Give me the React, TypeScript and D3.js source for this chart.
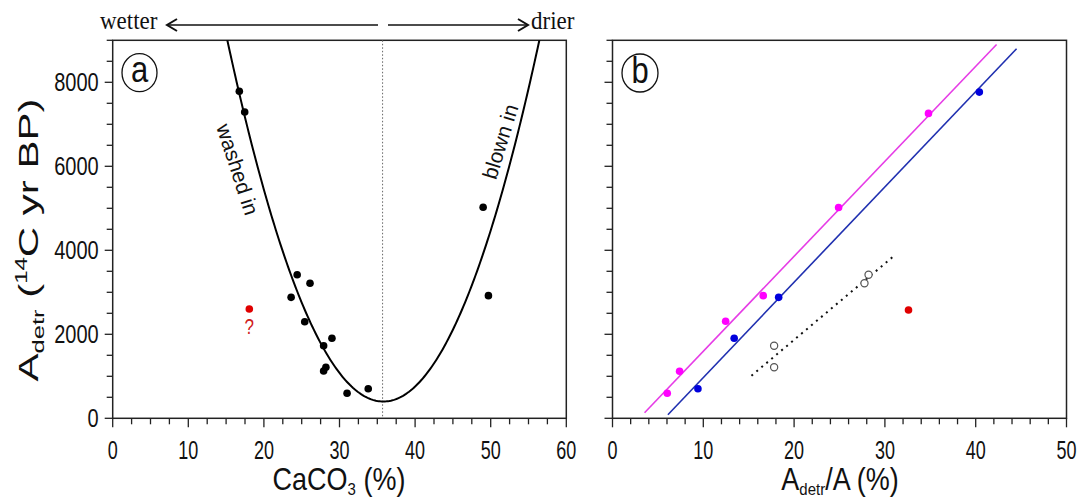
import React from "react";
import * as d3 from "d3";

// ---------- data ----------
const washedIn = [
  [16.75, 7786], [17.46, 7293], [24.4, 3419], [26.1, 3214], [23.6, 2880],
  [25.4, 2300], [29.0, 1905], [27.9, 1729], [28.2, 1214], [27.9, 1126],
  [33.8, 705], [31.0, 595],
];
const blownIn = [[49.0, 5024], [49.7, 2920]];
const outlierA = [[18.07, 2602]];

// parabola fit  y = a (x - x0)^2 + ymin
const fitA = { a: 20.2, x0: 35.8, ymin: 400 };
const dividerX = 35.7;

const magentaPts = [[6.03, 595], [7.39, 1119], [12.46, 2309], [16.6, 2920], [24.9, 5020], [34.8, 7260]];
const bluePts = [[9.41, 705], [13.4, 1905], [18.3, 2880], [40.4, 7767]];
const openPts = [[17.8, 1729], [17.8, 1214], [27.75, 3214], [28.2, 3419]];
const outlierB = [[32.6, 2580]];
const magentaLine = [[3.53, 133], [42.3, 8900]];
const blueLine = [[6.1, 86], [44.5, 8800]];
const dottedLine = [[15.3, 1014], [30.9, 3848]];

const xTicksA = [0, 10, 20, 30, 40, 50, 60];
const xTicksB = [0, 10, 20, 30, 40, 50];
const yTicks = [0, 2000, 4000, 6000, 8000];

// ---------- layout ----------
const W = 1087, H = 498;
const top = 40.3, bottom = 418.3;
const axA = { l: 112.7, r: 566.3 };
const axB = { l: 612.5, r: 1066.5 };
const FONT = "'Liberation Sans', Arial, sans-serif";
const SERIF = "'Liberation Serif', 'Times New Roman', serif";

const y = d3.scaleLinear().domain([0, 9000]).range([bottom, top]);
const xA = d3.scaleLinear().domain([0, 60]).range([axA.l, axA.r]);
const xB = d3.scaleLinear().domain([0, 50]).range([axB.l, axB.r]);

function SText({ x, y: yy, sx = 1, sy = 1, children, ...rest }: any) {
  return (
    <g transform={`translate(${x},${yy}) scale(${sx},${sy})`}>
      <text x={0} y={0} fontFamily={FONT} fill="#111" {...rest}>{children}</text>
    </g>
  );
}

function Frame({ x, minorStep, labels, showY }: any) {
  const [x0, x1] = x.range();
  const xMinor = d3.range(0, x.domain()[1] + 0.001, minorStep);
  const yMinor = d3.range(0, 9001, 500);
  return (
    <g>
      <rect x={x0} y={top} width={x1 - x0} height={bottom - top} fill="none" stroke="#222" strokeWidth={1.5} />
      {xMinor.map((v: number) => {
        const major = Math.abs(v % 10) < 1e-6;
        return <line key={"x" + v} x1={x(v)} x2={x(v)} y1={bottom} y2={bottom + (major ? 9 : 6)} stroke="#222" strokeWidth={1.3} />;
      })}
      {yMinor.map((v: number) => {
        const major = v % 2000 === 0;
        return <line key={"y" + v} x1={x0 - (major ? 8 : 6)} x2={x0} y1={y(v)} y2={y(v)} stroke="#222" strokeWidth={1.3} />;
      })}
      {labels.map((v: number) => (
        <SText key={"xl" + v} x={x(v)} y={459} sx={0.9} sy={1.25} textAnchor="middle" fontSize={20}>{v}</SText>
      ))}
      {showY && yTicks.map((v: number) => (
        <SText key={"yl" + v} x={x0 - 14} y={y(v) + 9} sy={1.25} textAnchor="end" fontSize={20}>{v}</SText>
      ))}
    </g>
  );
}

export default function App() {
  const line = d3.line<number[]>();
  const curvePts = d3.range(14, 58, 0.2)
    .map((v) => [v, fitA.a * (v - fitA.x0) ** 2 + fitA.ymin])
    .filter((p) => p[1] <= 9300);
  const curvePath = d3.line<number[]>().x((p) => xA(p[0])).y((p) => y(p[1]))(curvePts) as string;
  const lineB = (pts: number[][]) => line(pts.map((p) => [xB(p[0]), y(p[1])])) as string;

  return (
    <svg width={W} height={H} style={{ display: "block", position: "absolute", left: 0, top: 0, background: "#fff" }}>
      <defs>
        <clipPath id="clipA"><rect x={axA.l} y={top} width={axA.r - axA.l} height={bottom - top} /></clipPath>
      </defs>
      {/* top arrows */}
      <SText x={100} y={29} sy={1.1} fontFamily={SERIF} fontSize={23}>wetter</SText>
      <line x1={167} x2={378} y1={25} y2={25} stroke="#111" strokeWidth={1.5} />
      <polyline points="177,19 167,25 177,31" fill="none" stroke="#111" strokeWidth={2} />
      <line x1={388} x2={528} y1={25} y2={25} stroke="#111" strokeWidth={1.5} />
      <polyline points="518,19 528,25 518,31" fill="none" stroke="#111" strokeWidth={2} />
      <SText x={531} y={29} sy={1.1} fontFamily={SERIF} fontSize={23}>drier</SText>

      {/* panel a */}
      <Frame x={xA} minorStep={2.5} labels={xTicksA} showY={true} />
      <line x1={xA(dividerX)} x2={xA(dividerX)} y1={top} y2={bottom} stroke="#666" strokeWidth={1} strokeDasharray="1.5,2" />
      <path d={curvePath} fill="none" stroke="#000" strokeWidth={2} clipPath="url(#clipA)" />
      {[...washedIn, ...blownIn].map((p, i) => (
        <circle key={"a" + i} cx={xA(p[0])} cy={y(p[1])} r={3.8} fill="#000" />
      ))}
      {outlierA.map((p, i) => (
        <g key={"ra" + i}>
          <circle cx={xA(p[0])} cy={y(p[1])} r={3.8} fill="#e00000" />
          <SText x={xA(p[0])} y={y(p[1]) + 25} sy={1.25} textAnchor="middle" fontSize={17} fill="#d02020">?</SText>
        </g>
      ))}
      <text transform="translate(236,170) rotate(72)" textAnchor="middle" dominantBaseline="middle" fontSize={21} fontFamily={FONT} fill="#111">washed in</text>
      <text transform="translate(502,142) rotate(-73)" textAnchor="middle" dominantBaseline="middle" fontSize={21} fontFamily={FONT} fill="#111">blown in</text>
      <ellipse cx={139.5} cy={72.7} rx={17.5} ry={19} fill="none" stroke="#111" strokeWidth={1.3} />
      <SText x={139.5} y={82} sy={1.2} textAnchor="middle" fontSize={31}>a</SText>

      {/* panel b */}
      <Frame x={xB} minorStep={2} labels={xTicksB} showY={false} />
      <path d={lineB(magentaLine)} stroke="#e63ce6" strokeWidth={1.6} fill="none" />
      <path d={lineB(blueLine)} stroke="#2030b0" strokeWidth={1.6} fill="none" />
      <path d={lineB(dottedLine)} stroke="#111" strokeWidth={2} strokeDasharray="2,4.5" fill="none" />
      {magentaPts.map((p, i) => <circle key={"m" + i} cx={xB(p[0])} cy={y(p[1])} r={3.8} fill="#ff00ff" />)}
      {bluePts.map((p, i) => <circle key={"b" + i} cx={xB(p[0])} cy={y(p[1])} r={3.8} fill="#0000dd" />)}
      {openPts.map((p, i) => <circle key={"o" + i} cx={xB(p[0])} cy={y(p[1])} r={3.6} fill="#fff" stroke="#555" strokeWidth={1.2} />)}
      {outlierB.map((p, i) => <circle key={"r" + i} cx={xB(p[0])} cy={y(p[1])} r={3.8} fill="#e00000" />)}
      <ellipse cx={640} cy={73} rx={18} ry={19} fill="none" stroke="#111" strokeWidth={1.3} />
      <SText x={640} y={83} sy={1.2} textAnchor="middle" fontSize={31}>b</SText>

      {/* axis titles */}
      <g transform="translate(38,240) rotate(-90) scale(1.5,1)">
        <text x={0} y={0} textAnchor="middle" fontSize={28} fontFamily={FONT} fill="#111">
          A<tspan fontSize={17} dy={6}>detr</tspan>
          <tspan dy={-6}> (</tspan>
          <tspan fontSize={16} dy={-11}>14</tspan>
          <tspan dy={11}>C yr BP)</tspan>
        </text>
      </g>
      <SText x={339} y={490} sy={1.15} textAnchor="middle" fontSize={27}>
        CaCO<tspan fontSize={15} dy={4}>3</tspan><tspan dy={-4}> (%)</tspan>
      </SText>
      <SText x={840} y={490} sy={1.15} textAnchor="middle" fontSize={27}>
        A<tspan fontSize={15} dy={4}>detr</tspan><tspan dy={-4}>/A (%)</tspan>
      </SText>
    </svg>
  );
}
